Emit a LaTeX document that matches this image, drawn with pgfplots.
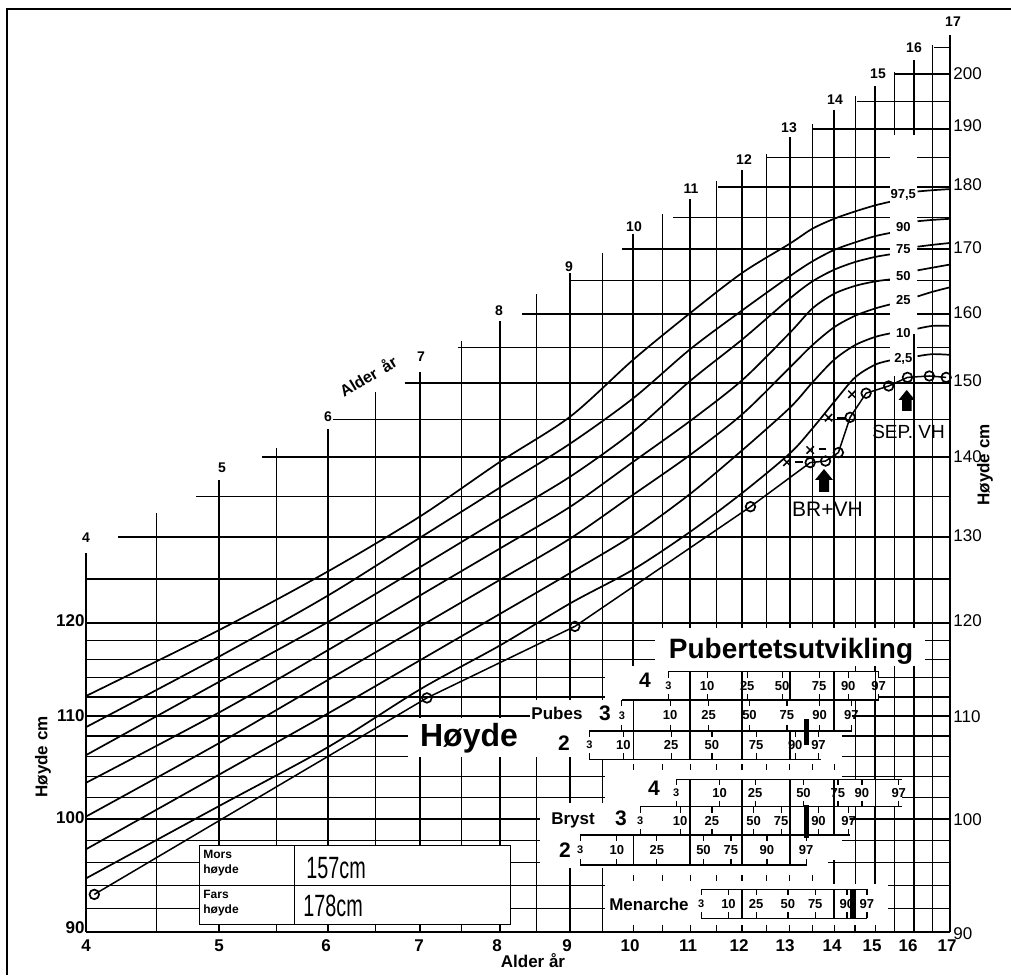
\documentclass[border=0pt]{standalone}
\usepackage{pgfplots}
\pgfplotsset{compat=1.18}
\usepackage{graphicx}
\usepackage{fontspec}
\setmainfont{Liberation Sans}
\newcommand{\fs}[1]{\fontsize{#1}{#1}\selectfont}
\newcommand{\barbody}[4]{%
  \addplot[fill=white, draw=none, mark=none] coordinates {(#1,-#3) (#2,-#3) (#2,-#4) (#1,-#4) (#1,-#3)};
  \draw[line width=0.7pt] (#1,-#3) -- (#2,-#3);
  \draw[line width=0.7pt] (#1,-#4) -- (#2,-#4);}
\newcommand{\pct}[7]{%
  \draw[line width=0.6pt] (#1,-#3) -- (#1,-#4);
  \draw[line width=0.6pt] (#1,-#5) -- (#1,-#6);
  \node[font=\bfseries\fs{6.5}, inner sep=0pt] at (#1,-#7) {#2};}
\newcommand{\dv}[3]{\draw[line width=0.7pt] (#1,-#2) -- (#1,-#3);}
\begin{document}
\begin{tikzpicture}
\tikzset{gth/.style={line width=0.95pt}, gtn/.style={line width=0.55pt},
  cur/.style={black, line width=0.85pt, smooth, mark=none}}
\begin{axis}[xmode=log, ymode=log, xmin=4, xmax=17, ymin=90, ymax=207.4,
  width=432pt, height=448.5pt, scale only axis, hide axis, clip=false]
\coordinate (O) at (axis cs:4,90);
% vertical grid
\draw[gth] (4,90) -- (4,128.0);
\draw[gtn] (4.5,90) -- (4.5,132.9);
\draw[gth] (5,90) -- (5,137.0);
\draw[gtn] (5.5,90) -- (5.5,141.2);
\draw[gth] (6,90) -- (6,143.7);
\draw[gtn] (6.5,90) -- (6.5,148.8);
\draw[gth] (7,90) -- (7,151.6);
\draw[gtn] (7.5,90) -- (7.5,156.0);
\draw[gth] (8,90) -- (8,158.9);
\draw[gtn] (8.5,90) -- (8.5,163.0);
\draw[gth] (9,90) -- (9,166.2);
\draw[gtn] (9.5,90) -- (9.5,169.3);
\draw[gth] (10,90) -- (10,172.3);
\draw[gtn] (10.5,90) -- (10.5,175.5);
\draw[gth] (11,90) -- (11,178.0);
\draw[gtn] (11.5,90) -- (11.5,181.1);
\draw[gth] (12,90) -- (12,182.9);
\draw[gtn] (12.5,90) -- (12.5,185.7);
\draw[gth] (13,90) -- (13,188.6);
\draw[gtn] (13.5,90) -- (13.5,190.9);
\draw[gth] (14,90) -- (14,193.4);
\draw[gtn] (14.5,90) -- (14.5,196.0);
\draw[gth] (15,90) -- (15,197.9);
\draw[gtn] (15.5,90) -- (15.5,200.4);
\draw[gth] (16,90) -- (16,202.6);
\draw[gtn] (16.5,90) -- (16.5,205.5);
\draw[gth] (17,90) -- (17,207.4);
% horizontal grid
\draw[gth] (4,90) -- (17,90);
\draw[gtn] (4,92) -- (17,92);
\draw[gtn] (4,94) -- (17,94);
\draw[gtn] (4,96) -- (17,96);
\draw[gtn] (4,98) -- (17,98);
\draw[gth] (4,100) -- (17,100);
\draw[gtn] (4,102) -- (17,102);
\draw[gtn] (4,104) -- (17,104);
\draw[gtn] (4,106) -- (17,106);
\draw[gtn] (4,108) -- (17,108);
\draw[gth] (4,110) -- (17,110);
\draw[gtn] (4,112) -- (17,112);
\draw[gtn] (4,114) -- (17,114);
\draw[gtn] (4,116) -- (17,116);
\draw[gtn] (4,118) -- (17,118);
\draw[gth] (4,120) -- (17,120);
\draw[gtn] (4,125) -- (17,125);
\draw[gth] (4.22,130) -- (17,130);
\draw[gtn] (4.81,135) -- (17,135);
\draw[gth] (5.37,140) -- (17,140);
\draw[gtn] (6.05,145) -- (17,145);
\draw[gth] (6.82,150) -- (17,150);
\draw[gtn] (7.46,155) -- (17,155);
\draw[gth] (8.30,160) -- (17,160);
\draw[gtn] (9.0,165) -- (17,165);
\draw[gth] (9.82,170) -- (17,170);
\draw[gtn] (10.69,175) -- (17,175);
\draw[gth] (11.53,180) -- (17,180);
\draw[gtn] (12.51,185) -- (17,185);
\draw[gth] (13.5,190) -- (17,190);
\draw[gtn] (14.55,195) -- (17,195);
\draw[gth] (15.5,200) -- (17,200);
\draw[gtn] (16.55,205) -- (17,205);
% percentile curves
\addplot[cur] coordinates {(4,112.1) (5,119.2) (6,125.9) (7,132.5) (8,139.4) (9,145.4) (10,153.3) (11,160.1) (12,166.2) (13,170.8) (13.5,173.2) (14,174.8) (14.5,176.0) (15,177.0) (15.38,177.6)};
\addplot[cur] coordinates {(16.1,179.3) (16.5,179.5) (17,179.7)};
\addplot[cur] coordinates {(4,108.9) (5,116.3) (6,123.1) (7,129.9) (8,136.1) (9,141.8) (10,147.9) (11,154.8) (12,160.5) (13,165.7) (13.5,168.0) (14,169.8) (14.5,171.0) (15,172.0) (15.38,172.5)};
\addplot[cur] coordinates {(16.1,174.4) (16.5,174.6) (17,174.8)};
\addplot[cur] coordinates {(4,106.1) (5,113.6) (6,120.1) (7,126.4) (8,132.2) (9,137.5) (10,143.4) (11,150.3) (12,156.2) (13,162.3) (13.5,164.9) (14,166.7) (14.5,167.9) (15,168.7) (15.38,169.1)};
\addplot[cur] coordinates {(16.1,170.3) (16.5,170.6) (17,170.9)};
\addplot[cur] coordinates {(4,103.4) (5,110.4) (6,117.0) (7,123.1) (8,128.6) (9,133.7) (10,139.4) (11,144.8) (12,150.4) (13,157.2) (13.5,160.8) (14,163.0) (14.5,164.2) (15,164.9) (15.38,165.2)};
\addplot[cur] coordinates {(16.1,166.6) (16.5,167.0) (17,167.5)};
\addplot[cur] coordinates {(4,100.2) (5,107.3) (6,113.8) (7,119.6) (8,124.9) (9,129.8) (10,135.2) (11,140.3) (12,145.7) (13,152.2) (13.5,155.4) (14,158.0) (14.5,159.7) (15,160.8) (15.38,161.4)};
\addplot[cur] coordinates {(16.1,162.6) (16.5,163.3) (17,164.0)};
\addplot[cur] coordinates {(4,97.2) (5,104.2) (6,110.3) (7,115.9) (8,121.0) (9,125.7) (10,130.2) (11,135.3) (12,140.9) (13,146.6) (13.5,150.1) (14,153.3) (14.5,155.4) (15,156.6) (15.38,157.1)};
\addplot[cur] coordinates {(16.1,157.8) (16.5,158.2) (17,158.2)};
\addplot[cur] coordinates {(4,94.6) (5,101.2) (6,106.9) (7,112.8) (8,117.5) (9,122.2) (10,126.1) (11,130.6) (12,135.4) (13,140.5) (13.5,143.8) (14,147.4) (14.5,150.8) (15,152.6) (15.38,153.2)};
\addplot[cur] coordinates {(16.1,153.8) (16.5,154.1) (17,154.0)};
% label column
\fill[white] (15.38,151) rectangle (16.09,189);
\draw[gth] (16,150) -- (16,157);
\node[font=\bfseries\fs{6.5}, inner sep=0pt] at (15.72,178.7) {97,5};
\node[font=\bfseries\fs{6.5}, inner sep=0pt] at (15.72,173.5) {90};
\node[font=\bfseries\fs{6.5}, inner sep=0pt] at (15.72,170.0) {75};
\node[font=\bfseries\fs{6.5}, inner sep=0pt] at (15.72,165.7) {50};
\node[font=\bfseries\fs{6.5}, inner sep=0pt] at (15.72,162.0) {25};
\node[font=\bfseries\fs{6.5}, inner sep=0pt] at (15.72,157.2) {10};
\node[font=\bfseries\fs{6.5}, inner sep=0pt] at (15.72,153.4) {2,5};
% child measurements
\addplot[black, line width=0.75pt, mark=o, mark size=2.4pt, mark options={fill=white, line width=0.85pt}] coordinates {(4.056,93.2) (7.08,111.9) (9.07,119.6) (12.17,133.7) (13.45,139.3) (13.80,139.5) (14.10,140.6) (14.38,145.3) (14.77,148.6) (15.34,149.6) (15.83,150.8) (16.42,151.0) (16.89,150.8)};
% bone age marks
\addplot[black, only marks, mark=x, mark size=2.6pt, line width=0.75pt] coordinates {(12.936,139.35) (13.45,140.94) (13.87,145.25) (14.425,148.44)};
\draw[line width=0.8pt] (13.117,139.35) -- (13.30,139.35);
\draw[line width=0.8pt] (13.64,141.07) -- (13.80,141.07);
\draw[line width=0.8pt] (14.07,145.2) -- (14.26,145.2);
\end{axis}
\begin{scope}[shift={(O)}, xshift=-43pt, yshift=466pt, x=0.5pt, y=-0.5pt]
\draw[line width=0.9pt] (7,975) -- (7,9) -- (1011,9);
\fill[white] (655,628) rectangle (925,666);
\fill[white] (605,666) rectangle (842,860);
\fill[white] (605,860) rectangle (828,884);
\fill[white] (605,884) rectangle (888,930.8);
\fill[white] (408,718) rectangle (605,757);
\fill[white] (530,700) rectangle (605,757);
\fill[white] (540,803) rectangle (605,868);
\draw[line width=0.5pt, fill=white] (199,845) rectangle (510,924);
\draw[line width=0.5pt] (199,885) -- (510,885) (294,845) -- (294,924);
\end{scope}
\begin{axis}[xmode=log, xmin=4, xmax=17, ymin=-932, ymax=-35,
  width=432pt, height=448.5pt, scale only axis, hide axis, clip=false]
% bar bodies
\barbody{10.609}{15.081}{671.7}{700}
\barbody{9.812}{14.425}{700}{731}
\barbody{9.294}{13.69}{731}{759.3}
\barbody{10.746}{15.68}{779.3}{806.7}
\barbody{10.118}{14.367}{806.7}{835}
\barbody{9.150}{13.383}{835}{865}
\barbody{11.206}{14.791}{889.3}{918.3}
% Pubes 4
\pct{10.609}{\fs{5.5}3}{671.7}{677.7}{694}{700}{685.9}
\pct{11.319}{10}{671.7}{677.7}{694}{700}{685.9}
\pct{12.104}{25}{671.7}{677.7}{694}{700}{685.9}
\pct{12.834}{50}{671.7}{677.7}{694}{700}{685.9}
\pct{13.655}{75}{671.7}{677.7}{694}{700}{685.9}
\pct{14.335}{90}{671.7}{677.7}{694}{700}{685.9}
\pct{15.081}{97}{671.7}{677.7}{694}{700}{685.9}
\dv{11}{671.7}{700}\dv{12}{671.7}{700}\dv{13}{671.7}{700}\dv{14}{671.7}{700}\dv{15}{671.7}{700}
% Pubes 3
\pct{9.812}{\fs{5.5}3}{700}{706}{725}{731}{715.5}
\pct{10.639}{10}{700}{706}{725}{731}{715.5}
\pct{11.344}{25}{700}{706}{725}{731}{715.5}
\pct{12.150}{50}{700}{706}{725}{731}{715.5}
\pct{12.936}{75}{700}{706}{725}{731}{715.5}
\pct{13.662}{90}{700}{706}{725}{731}{715.5}
\pct{14.408}{97}{700}{706}{725}{731}{715.5}
\dv{10}{700}{731}\dv{11}{700}{731}\dv{12}{700}{731}\dv{14}{700}{731}
% Pubes 2
\pct{9.294}{\fs{5.5}3}{731}{737}{753.3}{759.3}{745.2}
\pct{9.838}{10}{731}{737}{753.3}{759.3}{745.2}
\pct{10.657}{25}{731}{737}{753.3}{759.3}{745.2}
\pct{11.409}{50}{731}{737}{753.3}{759.3}{745.2}
\pct{12.287}{75}{731}{737}{753.3}{759.3}{745.2}
\pct{13.117}{90}{731}{737}{753.3}{759.3}{745.2}
\pct{13.638}{97}{731}{737}{753.3}{759.3}{745.2}
\dv{10}{731}{759.3}\dv{11}{731}{759.3}\dv{12}{731}{759.3}\dv{13}{731}{759.3}
% Bryst 4
\pct{10.746}{\fs{5.5}3}{779.3}{785.3}{800.7}{806.7}{793}
\pct{11.555}{10}{779.3}{785.3}{800.7}{806.7}{793}
\pct{12.267}{25}{779.3}{785.3}{800.7}{806.7}{793}
\pct{13.300}{50}{779.3}{785.3}{800.7}{806.7}{793}
\pct{14.090}{75}{779.3}{785.3}{800.7}{806.7}{793}
\pct{14.668}{90}{779.3}{785.3}{800.7}{806.7}{793}
\pct{15.60}{97}{779.3}{785.3}{800.7}{806.7}{793}
\dv{11}{779.3}{806.7}\dv{12}{779.3}{806.7}\dv{13}{779.3}{806.7}\dv{14}{779.3}{806.7}\dv{15}{779.3}{806.7}
% Bryst 3
\pct{10.118}{\fs{5.5}3}{806.7}{812.7}{829}{835}{820.9}
\pct{10.819}{10}{806.7}{812.7}{829}{835}{820.9}
\pct{11.409}{25}{806.7}{812.7}{829}{835}{820.9}
\pct{12.232}{50}{806.7}{812.7}{829}{835}{820.9}
\pct{12.813}{75}{806.7}{812.7}{829}{835}{820.9}
\pct{13.638}{90}{806.7}{812.7}{829}{835}{820.9}
\pct{14.343}{97}{806.7}{812.7}{829}{835}{820.9}
\dv{11}{806.7}{835}\dv{12}{806.7}{835}\dv{13}{806.7}{835}\dv{14}{806.7}{835}
% Bryst 2
\pct{9.150}{\fs{5.5}3}{835}{841}{859}{865}{850}
\pct{9.730}{10}{835}{841}{859}{865}{850}
\pct{10.404}{25}{835}{841}{859}{865}{850}
\pct{11.249}{50}{835}{841}{859}{865}{850}
\pct{11.778}{75}{835}{841}{859}{865}{850}
\pct{12.510}{90}{835}{841}{859}{865}{850}
\pct{13.360}{97}{835}{841}{859}{865}{850}
\dv{10}{835}{865}\dv{11}{835}{865}\dv{12}{835}{865}\dv{13}{835}{865}
% Menarche
\pct{11.206}{\fs{5.5}3}{889.3}{895.3}{912.3}{918.3}{903.8}
\pct{11.730}{10}{889.3}{895.3}{912.3}{918.3}{903.8}
\pct{12.287}{25}{889.3}{895.3}{912.3}{918.3}{903.8}
\pct{12.958}{50}{889.3}{895.3}{912.3}{918.3}{903.8}
\pct{13.564}{75}{889.3}{895.3}{912.3}{918.3}{903.8}
\pct{14.304}{90}{889.3}{895.3}{912.3}{918.3}{903.8}
\pct{14.791}{97}{889.3}{895.3}{912.3}{918.3}{903.8}
\dv{12}{889.3}{918.3}\dv{14}{889.3}{918.3}
% stage markers
\addplot[black, line width=2.4pt, mark=none] coordinates {(13.36,-719) (13.36,-745)};
\addplot[black, line width=2.4pt, mark=none] coordinates {(13.36,-805) (13.36,-838)};
\addplot[black, line width=3pt, mark=none] coordinates {(14.46,-889.3) (14.46,-918.3)};
% tick rows
\draw[line width=0.6pt] (10,-764) -- (10,-770) (10.5,-764) -- (10.5,-770) (11,-764) -- (11,-770) (11.5,-764) -- (11.5,-770) (12,-764) -- (12,-770) (12.5,-764) -- (12.5,-770) (13,-764) -- (13,-770) (13.5,-764) -- (13.5,-770) (14,-764) -- (14,-770);
\draw[line width=0.6pt] (10,-875) -- (10,-881) (10.5,-875) -- (10.5,-881) (11,-875) -- (11,-881) (11.5,-875) -- (11.5,-881) (12,-875) -- (12,-881) (12.5,-875) -- (12.5,-881) (13,-875) -- (13,-881) (13.5,-875) -- (13.5,-881);
\draw[line width=0.6pt] (10,-925) -- (10,-932) (10.5,-925) -- (10.5,-932) (11,-925) -- (11,-932) (11.5,-925) -- (11.5,-932) (12,-925) -- (12,-932) (12.5,-925) -- (12.5,-932) (13,-925) -- (13,-932) (13.5,-925) -- (13.5,-932) (14,-925) -- (14,-932) (14.5,-925) -- (14.5,-932) (15,-925) -- (15,-932);
\end{axis}
\begin{scope}[shift={(O)}, xshift=-43pt, yshift=466pt, x=0.5pt, y=-0.5pt]
\tikzset{lab/.style={inner sep=0pt, font=\bfseries\fs{8.5}}, tl/.style={inner sep=0pt, font=\bfseries\fs{7}}}
% top age labels
\foreach \x/\y/\t in {86/538/4, 222/468/5, 328/417/6, 421/357/7, 499/311/8, 569/267/9, 634/227/10, 691/189/11, 744/160/12, 789/128/13, 835/100/14, 878/74/15, 914/48/16, 953/22/17}
  \node[tl] at (\x,\y) {\t};
% bottom labels
\foreach \x/\t in {86/4, 219/5, 326/6, 419/7, 497/8, 567/9, 630/10, 688/11, 739/12, 785/13, 832/14, 872/15, 908/16, 947/17}
  \node[lab] at (\x,946) {\t};
\foreach \y/\t in {928/90, 818/100, 716/110, 621/120}
  \node[lab, anchor=east] at (85,\y) {\t};
\foreach \y/\t in {934/90, 820/100, 717/110, 621/120, 536/130, 457/140, 381/150, 313/160, 248/170, 185/180, 126/190, 74/200}
  \node[inner sep=0pt, anchor=west, font=\fs{8.5}] at (953,\y) {\t};
\node[lab, rotate=90] at (43,757) {Høyde cm};
\node[lab, rotate=90] at (985,465) {Høyde cm};
\node[lab] at (533,961) {Alder år};
\node[inner sep=0pt, font=\bfseries\fs{8}, rotate=31] at (368,376) {Alder\hspace{1.5pt} år};
\node[inner sep=0pt, font=\bfseries\fs{16}, anchor=base] at (469,746) {Høyde};
\node[inner sep=0pt, font=\bfseries\fs{14}, anchor=base] at (791,658) {Pubertetsutvikling};
% stage numbers and labels
\node[inner sep=0pt, font=\bfseries\fs{10.5}] at (645,680) {4};
\node[inner sep=0pt, font=\bfseries\fs{10.5}] at (605,713) {3};
\node[inner sep=0pt, font=\bfseries\fs{10.5}] at (564,743) {2};
\node[inner sep=0pt, font=\bfseries\fs{10.5}] at (654,788) {4};
\node[inner sep=0pt, font=\bfseries\fs{10.5}] at (621,818) {3};
\node[inner sep=0pt, font=\bfseries\fs{10.5}] at (565,850) {2};
\node[lab] at (557,713) {Pubes};
\node[lab] at (573,820) {Bryst};
\node[lab] at (649,904) {Menarche};
% parents box text
\node[anchor=north west, inner sep=0pt, font=\bfseries\fontsize{6}{7.5}\selectfont, align=left] at (203,850) {Mors\\høyde};
\node[anchor=north west, inner sep=0pt, font=\bfseries\fontsize{6}{7.5}\selectfont, align=left] at (203,890) {Fars\\høyde};
\node[anchor=west, inner sep=0pt, font=\fs{11}] at (306,868) {\scalebox{0.9}[1.4]{157cm}};
\node[anchor=west, inner sep=0pt, font=\fs{11}] at (303,906) {\scalebox{0.9}[1.4]{178cm}};
% handwritten annotations
\fill (824,469) -- (833,480) -- (829,480) -- (829,492) -- (819,492) -- (819,480) -- (815,480) -- cycle;
\fill (906.7,390) -- (915,400) -- (911.5,400) -- (911.5,411) -- (902,411) -- (902,400) -- (898.5,400) -- cycle;
\node[inner sep=0pt, font=\fs{10.5}] at (827.5,509) {BR+VH};
\node[inner sep=0pt, font=\fs{9.5}] at (908.5,432) {SEP. VH};
\pgfresetboundingbox
\path[use as bounding box] (0,0) rectangle (1011,975);
\end{scope}
\end{tikzpicture}
\end{document}
